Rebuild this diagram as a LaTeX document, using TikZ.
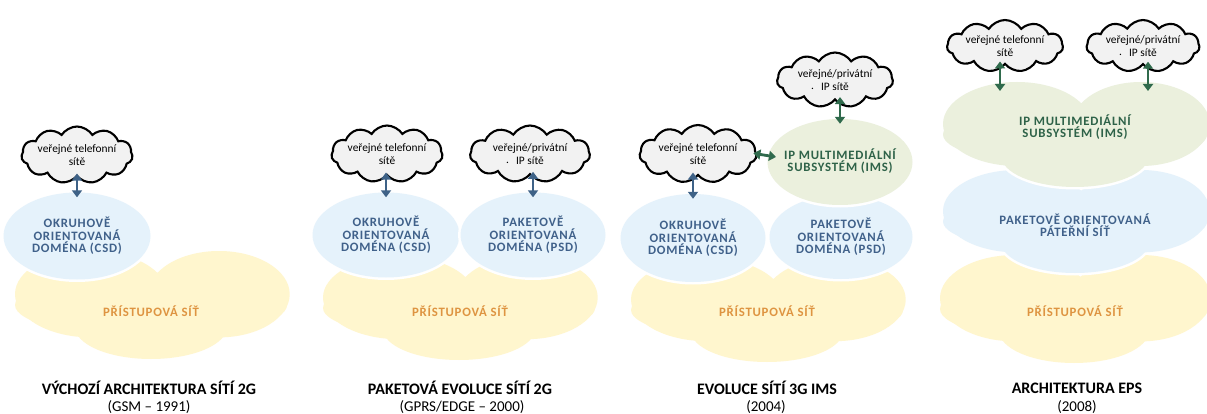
\documentclass[tikz,border=0pt]{standalone}
\usepackage{fontspec}
\setmainfont{Carlito}
\usetikzlibrary{shapes.symbols,shapes.geometric,arrows.meta}

\definecolor{cloudfill}{HTML}{F2F2F2}
\definecolor{bluefill}{HTML}{E5F2FB}
\definecolor{yellowfill}{HTML}{FFF6CE}
\definecolor{greenfill}{HTML}{EBF0DD}
\definecolor{bluetext}{HTML}{40618A}
\definecolor{orangetext}{HTML}{DE9441}
\definecolor{greentext}{HTML}{2E6248}
\definecolor{arrowblue}{HTML}{3E6287}
\definecolor{arrowgreen}{HTML}{2F6A4C}

% lobed layer: centre (#1,#2), width #3, height #4, fill colour #5
\newcommand\layerblob[5]{%
  \foreach \ex/\ey/\rx/\ry in {-0.22/-0.1/0.28/0.4, 0.25/-0.1/0.26/0.4, 0/0/0.5/0.3, 0/0.2/0.28/0.3}
    \draw[white, line width=5pt] ({#1+(\ex)*#3},{#2+(\ey)*#4}) ellipse [x radius={(\rx)*#3}, y radius={(\ry)*#4}];
  \foreach \ex/\ey/\rx/\ry in {-0.22/-0.1/0.28/0.4, 0.25/-0.1/0.26/0.4, 0/0/0.5/0.3, 0/0.2/0.28/0.3}
    \fill[#5] ({#1+(\ex)*#3},{#2+(\ey)*#4}) ellipse [x radius={(\rx)*#3}, y radius={(\ry)*#4}];
}
\newfontfamily\layerfamily[LetterSpace=6]{Carlito}
\newcommand\layerfont{\layerfamily\bfseries\fontsize{12.8}{12.5}\selectfont}

\begin{document}
\begin{tikzpicture}[x=1pt, y=-1pt,
  netcloud/.style={cloud, cloud puffs=11, cloud puff arc=115, cloud ignores aspect,
    draw=black, line width=2.1pt, fill=cloudfill, inner sep=0pt, align=center,
    font=\fontsize{11.4}{13}\selectfont},
  domain/.style={ellipse, inner sep=0pt, fill=#1,
    preaction={draw=white, line width=5pt}},
  bluetxt/.style={align=center, text=bluetext, font=\layerfont},
  greentxt/.style={align=center, text=greentext, font=\layerfont},
  accesstxt/.style={align=center, text=orangetext, font=\layerfont},
  caption/.style={font=\bfseries\fontsize{16}{18}\selectfont},
  subcaption/.style={font=\fontsize{15}{17}\selectfont},
  arrB/.style={arrowblue, line width=2.8pt,
    {Triangle[width=10pt,length=7pt]}-{Triangle[width=10pt,length=7pt]}},
  arrG/.style={arrowgreen, line width=2.8pt,
    {Triangle[width=10pt,length=7pt]}-{Triangle[width=10pt,length=7pt]}}
]
\useasboundingbox (0,0) rectangle (1207,414);

% ---------- access network layers ----------
\layerblob{151}{305}{272}{108}{yellowfill}
\layerblob{459}{308}{272}{104}{yellowfill}
\layerblob{767}{310}{272}{104}{yellowfill}
\layerblob{1074}{309}{268}{108}{yellowfill}
% EPS: packet core and IMS layers
\layerblob{1075}{221.5}{264}{103}{bluefill}
\layerblob{1075}{134.5}{264}{105}{greenfill}

% ---------- domains ----------
\node[domain=bluefill, minimum width=147, minimum height=87] (csdA) at (77,236) {};
\node[domain=bluefill, minimum width=147, minimum height=85] (csdB) at (386,235) {};
\node[domain=bluefill, minimum width=145, minimum height=85] (psdB) at (533,235) {};
\node[domain=bluefill, minimum width=145, minimum height=88] (csdC) at (693,238) {};
\node[domain=bluefill, minimum width=143, minimum height=84] (psdC) at (841,237) {};
\node[domain=greenfill, minimum width=145, minimum height=86] (imsC) at (840,162) {};
\coordinate (imsDa) at (1000,91);
\coordinate (imsDb) at (1148,91);

% ---------- external networks ----------
\node[netcloud, minimum width=106, minimum height=57] (telA) at (77,155) {veřejné telefonní\\sítě};
\node[netcloud, minimum width=106, minimum height=57] (telB) at (387,154) {veřejné telefonní\\sítě};
\node[netcloud, minimum width=120, minimum height=57] (ipB) at (530,154) {veřejné/privátní\\\llap{\raisebox{1pt}{.}\hspace{7pt}}IP sítě};
\node[netcloud, minimum width=117, minimum height=58] (telC) at (698,154) {veřejné telefonní\\sítě};
\node[netcloud, minimum width=116, minimum height=55] (ipC) at (835,80) {veřejné/privátní\\\llap{\raisebox{1pt}{.}\hspace{7pt}}IP sítě};
\node[netcloud, minimum width=116, minimum height=52] (telD) at (1005,46) {veřejné telefonní\\sítě};
\node[netcloud, minimum width=113, minimum height=52] (ipD) at (1143,46) {veřejné/privátní\\\llap{\raisebox{1pt}{.}\hspace{7pt}}IP sítě};

% ---------- connectors ----------
\draw[arrB, shorten <=-4pt, shorten >=-5pt] (telA.south -| csdA.north) -- (csdA.north);
\draw[arrB, shorten <=-4pt, shorten >=-5pt] (telB.south -| csdB.north) -- (csdB.north);
\draw[arrB, shorten <=-4pt, shorten >=-5pt] (ipB.south -| psdB.north) -- (psdB.north);
\draw[arrB, shorten <=-4pt, shorten >=-5pt] (telC.south -| csdC.north) -- (csdC.north);
\draw[arrG, shorten <=-4pt, shorten >=-8pt] (telC.east) -- (imsC.175);
\draw[arrG, shorten <=-4pt, shorten >=-5pt] (ipC.south -| imsC.north) -- (imsC.north);
\draw[arrG, shorten <=-4pt] (telD.south -| imsDa) -- (imsDa);
\draw[arrG, shorten <=-4pt] (ipD.south -| imsDb) -- (imsDb);

% ---------- labels ----------
\node[bluetxt] (lcsdA) at (csdA) {OKRUHOVĚ\\ORIENTOVANÁ\\DOMÉNA (CSD)};
\node[bluetxt] (lcsdB) at (csdB) {OKRUHOVĚ\\ORIENTOVANÁ\\DOMÉNA (CSD)};
\node[bluetxt] (lpsdB) at (psdB) {PAKETOVĚ\\ORIENTOVANÁ\\DOMÉNA (PSD)};
\node[bluetxt] (lcsdC) at (csdC) {OKRUHOVĚ\\ORIENTOVANÁ\\DOMÉNA (CSD)};
\node[bluetxt] (lpsdC) at (psdC) {PAKETOVĚ\\ORIENTOVANÁ\\DOMÉNA (PSD)};
\node[greentxt] (limsC) at (840,161) {IP MULTIMEDIÁLNÍ\\SUBSYSTÉM (IMS)};
\node[greentxt] (limsD) at (1075,127) {IP MULTIMEDIÁLNÍ\\SUBSYSTÉM (IMS)};
\node[bluetxt] (lcoreD) at (1075,225) {PAKETOVĚ ORIENTOVANÁ\\PÁTEŘNÍ SÍŤ};
\node[accesstxt] (accA) at (151,311) {PŘÍSTUPOVÁ SÍŤ};
\node[accesstxt] (accB) at (460,311) {PŘÍSTUPOVÁ SÍŤ};
\node[accesstxt] (accC) at (767,311) {PŘÍSTUPOVÁ SÍŤ};
\node[accesstxt] (accD) at (1075,311) {PŘÍSTUPOVÁ SÍŤ};

% ---------- captions ----------
\node[caption] (capA) at (149,388) {VÝCHOZÍ ARCHITEKTURA SÍTÍ 2G};
\node[subcaption] (subA) at (149,407) {(GSM – 1991)};
\node[caption] (capB) at (460,388) {PAKETOVÁ EVOLUCE SÍTÍ 2G};
\node[subcaption] (subB) at (462,407) {(GPRS/EDGE – 2000)};
\node[caption] (capC) at (767,388) {EVOLUCE SÍTÍ 3G IMS};
\node[subcaption] (subC) at (766,407) {(2004)};
\node[caption] (capD) at (1077,388) {ARCHITEKTURA EPS};
\node[subcaption] (subD) at (1077,407) {(2008)};
\end{tikzpicture}
\end{document}
